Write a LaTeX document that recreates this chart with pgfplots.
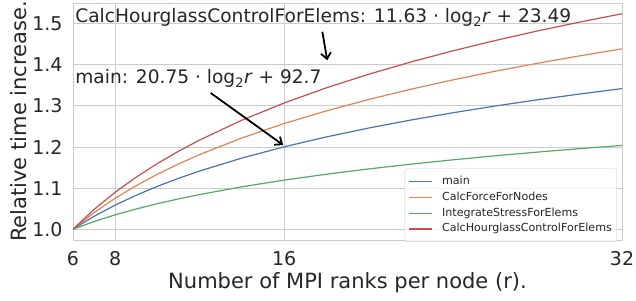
\documentclass[border=0pt]{standalone}
\usepackage{fontspec}
\setmainfont{DejaVu Sans}
\usepackage{pgfplots}
\pgfplotsset{compat=1.18}
\usetikzlibrary{arrows.meta}
\definecolor{sbblue}{HTML}{4C72B0}
\definecolor{sborange}{HTML}{DD8452}
\definecolor{sbgreen}{HTML}{55A868}
\definecolor{sbred}{HTML}{C44E52}
\definecolor{gridc}{HTML}{CCCCCC}
\definecolor{txt}{HTML}{262626}
\begin{document}
\begin{tikzpicture}
\path[use as bounding box] (-73pt,-60pt) rectangle (563pt,240pt);
\begin{axis}[
  at={(0pt,0pt)}, anchor=south west,
  scale only axis, width=549pt, height=237pt,
  xmin=6, xmax=32, ymin=0.9738, ymax=1.5507,
  xtick={6,8,16,32}, ytick={1.0,1.1,1.2,1.3,1.4,1.5},
  /pgf/number format/assume math mode=true,
  yticklabel style={/pgf/number format/fixed, /pgf/number format/fixed zerofill, /pgf/number format/precision=1},
  grid=major, major grid style={gridc, line width=1pt},
  axis line style={gridc, line width=1pt},
  major tick length=0pt,
  tick label style={font=\fontsize{19}{22}\selectfont, text=txt},
  xticklabel style={inner sep=0pt, anchor=north, yshift=-11.5pt},
  yticklabel style={inner sep=0pt, anchor=east, xshift=-10.3pt},
  xlabel={Number of MPI ranks per node (r).},
  ylabel={Relative time increase.},
  label style={font=\fontsize{21}{25}\selectfont, text=txt},
  xlabel style={at={(axis description cs:0.5,0)}, anchor=base, inner sep=0pt, yshift=-48.3pt},
  ylabel style={at={(axis description cs:0,0.5)}, anchor=base, inner sep=0pt, yshift=46pt},
  legend style={at={(0.991,-0.008)}, anchor=south east, draw=gridc, fill=white, fill opacity=0.8, text opacity=1,
    rounded corners=2.5pt, font=\fontsize{11.1}{13}\selectfont, text=txt, inner xsep=4pt, inner ysep=6.5pt,
    row sep=3.3pt, column sep=8pt, nodes={inner sep=1pt, text height=8.2pt, text depth=2.3pt}},
  legend cell align=left,
  legend image code/.code={\draw[#1, line width=1.2pt] (0pt,0pt) -- (23pt,0pt);},
]
\addplot[sbblue, line width=1.2pt] coordinates {
(6,1.0000) (7,1.0315) (8,1.0588) (9,1.0829) (10,1.1045) (11,1.1240) (12,1.1418)
(14,1.1733) (16,1.2006) (18,1.2247) (20,1.2463) (22,1.2658) (24,1.2836)
(26,1.3000) (28,1.3151) (30,1.3292) (32,1.3424)};
\addlegendentry{main}
\addplot[sborange, line width=1.2pt] coordinates {
(6,1.0000) (7,1.0404) (8,1.0755) (9,1.1063) (10,1.1340) (11,1.1590) (12,1.1818)
(14,1.2222) (16,1.2573) (18,1.2881) (20,1.3158) (22,1.3408) (24,1.3636)
(26,1.3846) (28,1.4040) (30,1.4221) (32,1.4391)};
\addlegendentry{CalcForceForNodes}
\addplot[sbgreen, line width=1.2pt] coordinates {
(6,1.0000) (7,1.0188) (8,1.0351) (9,1.0494) (10,1.0623) (11,1.0739) (12,1.0845)
(14,1.1033) (16,1.1196) (18,1.1339) (20,1.1468) (22,1.1584) (24,1.1690)
(26,1.1788) (28,1.1878) (30,1.1962) (32,1.2041)};
\addlegendentry{IntegrateStressForElems}
\addplot[sbred, line width=1.2pt] coordinates {
(6,1.0000) (7,1.0483) (8,1.0901) (9,1.1270) (10,1.1601) (11,1.1899) (12,1.2172)
(14,1.2655) (16,1.3073) (18,1.3442) (20,1.3772) (22,1.4071) (24,1.4344)
(26,1.4594) (28,1.4827) (30,1.5043) (32,1.5245)};
\addlegendentry{CalcHourglassControlForElems}
\node[anchor=base west, inner sep=0pt, font=\fontsize{18.6}{22}\selectfont, text=txt] at (axis cs:6.10,1.503)
  {CalcHourglassControlForElems: 11.63 · log\textsubscript{2}\textit{r} + 23.49};
\node[anchor=base west, inner sep=0pt, font=\fontsize{18.6}{22}\selectfont, text=txt] at (axis cs:6.10,1.3537)
  {main: 20.75 · log\textsubscript{2}\textit{r} + 92.7};
\draw[-{Straight Barb[length=6pt,width=10pt]}, line width=1.8pt] (axis cs:17.81,1.4805) -- (axis cs:18.04,1.4112);
\draw[-{Straight Barb[length=6pt,width=10pt]}, line width=1.8pt] (axis cs:12.52,1.3317) -- (axis cs:15.95,1.205);
\end{axis}
\end{tikzpicture}
\end{document}
